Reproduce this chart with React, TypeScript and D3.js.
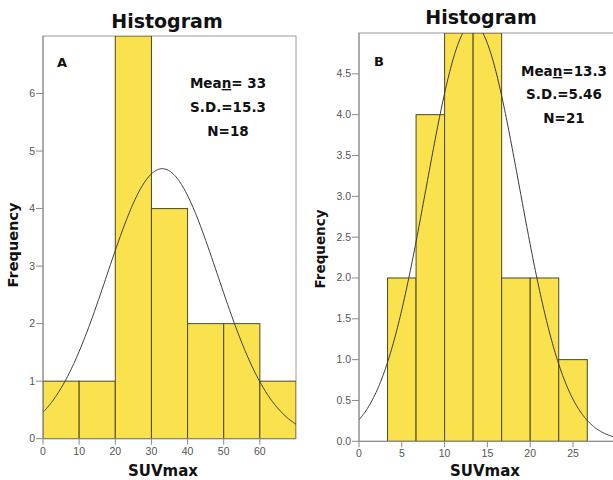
import React from "react";
import * as d3 from "d3";

// Panel A data
const edgesA = [0, 10, 20, 30, 40, 50, 60, 70];
const countsA = [1, 1, 7, 4, 2, 2, 1];
const ticksXA = [0, 10, 20, 30, 40, 50, 60];
const ticksYA = [0, 1, 2, 3, 4, 5, 6];
const meanA = 33;
const sdA = 15.3;
const nA = 18;

// Panel B data
const edgesB = [3.333, 6.667, 10, 13.333, 16.667, 20, 23.333, 26.667];
const countsB = [2, 4, 5, 5, 2, 2, 1];
const ticksXB = [0, 5, 10, 15, 20, 25];
const ticksYB = [0, 0.5, 1, 1.5, 2, 2.5, 3, 3.5, 4, 4.5];
const meanB = 13.3;
const sdB = 5.46;
const nB = 21;

const HEAVY = "'DejaVu Sans', 'Liberation Sans', Arial, sans-serif";
const LIGHT = "'Liberation Sans', Arial, sans-serif";

type PanelProps = {
  id: string;
  letter: string;
  edges: number[];
  counts: number[];
  xDomain: [number, number];
  yDomain: [number, number];
  xRange: [number, number];
  yRange: [number, number];
  xTicks: number[];
  yTicks: number[];
  yFmt: (v: number) => string;
  mean: number;
  sd: number;
  n: number;
  meanText: string;
  sdText: string;
  nText: string;
  titleX: number;
  titleY: number;
  statsX: number;
  statsY: number[];
  statsSize: number;
  letterX: number;
  letterY: number;
  yLabelX: number;
  yLabelY: number;
  yLabelSize: number;
  xLabelX: number;
  xLabelY: number;
};

function Panel(p: PanelProps) {
  const x = d3.scaleLinear().domain(p.xDomain).range(p.xRange);
  const y = d3.scaleLinear().domain(p.yDomain).range(p.yRange);
  const [x0, x1] = p.xRange;
  const [yb, yt] = p.yRange;
  const binW = p.edges[1] - p.edges[0];
  const pdf = (v: number) =>
    (p.n * binW) / (p.sd * Math.sqrt(2 * Math.PI)) *
    Math.exp(-((v - p.mean) ** 2) / (2 * p.sd * p.sd));
  const xs = d3.range(p.xDomain[0], p.xDomain[1] + 0.0001, (p.xDomain[1] - p.xDomain[0]) / 300);
  const line = d3
    .line<number>()
    .x((d) => x(d))
    .y((d) => y(pdf(d)));
  const clipId = "clip-" + p.id;
  return (
    <g>
      <defs>
        <clipPath id={clipId}>
          <rect x={x0} y={yt} width={x1 - x0} height={yb - yt} />
        </clipPath>
      </defs>
      <rect x={x0} y={yt} width={x1 - x0} height={yb - yt} fill="#fff" stroke="#9a9a9a" strokeWidth={1} />
      <g clipPath={`url(#${clipId})`}>
        {p.counts.map((c, i) => (
          <rect
            key={i}
            x={x(p.edges[i])}
            y={y(c)}
            width={x(p.edges[i + 1]) - x(p.edges[i])}
            height={y(0) - y(c)}
            fill="#f9e24e"
            stroke="#4d4822"
            strokeWidth={1}
          />
        ))}
        <path d={line(xs) || ""} fill="none" stroke="#3a3a3a" strokeWidth={1} />
      </g>
      <line x1={x0} x2={x1} y1={yb} y2={yb} stroke="#8a8a8a" />
      <line x1={x0} x2={x0} y1={yb} y2={yt} stroke="#8a8a8a" />
      {p.yTicks.map((t) => (
        <g key={"y" + t}>
          <line x1={x0 - 7} x2={x0} y1={y(t)} y2={y(t)} stroke="#8a8a8a" />
          <text x={x0 - 8} y={y(t) + 3.5} textAnchor="end" fontSize={10.5} fill="#555" fontFamily={LIGHT}>
            {p.yFmt(t)}
          </text>
        </g>
      ))}
      {p.xTicks.map((t) => (
        <g key={"x" + t}>
          <line x1={x(t)} x2={x(t)} y1={yb} y2={yb + 6} stroke="#8a8a8a" />
          <text x={x(t)} y={yb + 16} textAnchor="middle" fontSize={10.5} fill="#555" fontFamily={LIGHT}>
            {t}
          </text>
        </g>
      ))}
      <text x={p.titleX} y={p.titleY} textAnchor="middle" fontSize={19} fontWeight={700} fontFamily={HEAVY} fill="#111">
        Histogram
      </text>
      <text x={p.letterX} y={p.letterY} fontSize={13} fontWeight={700} fontFamily={HEAVY} fill="#111">
        {p.letter}
      </text>
      <text x={p.statsX} y={p.statsY[0]} textAnchor="middle" fontSize={p.statsSize} fontWeight={700} fontFamily={HEAVY} fill="#111">
        Mea<tspan textDecoration="underline">n</tspan>
        {p.meanText}
      </text>
      <text x={p.statsX} y={p.statsY[1]} textAnchor="middle" fontSize={p.statsSize} fontWeight={700} fontFamily={HEAVY} fill="#111">
        {p.sdText}
      </text>
      <text x={p.statsX} y={p.statsY[2]} textAnchor="middle" fontSize={p.statsSize} fontWeight={700} fontFamily={HEAVY} fill="#111">
        {p.nText}
      </text>
      <text
        transform={`translate(${p.yLabelX},${p.yLabelY}) rotate(-90)`}
        textAnchor="middle"
        fontSize={p.yLabelSize}
        fontWeight={700}
        fontFamily={HEAVY}
        fill="#111"
      >
        Frequency
      </text>
      <text x={p.xLabelX} y={p.xLabelY} textAnchor="middle" fontSize={15} fontWeight={700} fontFamily={HEAVY} fill="#111">
        SUVmax
      </text>
    </g>
  );
}

export default function App() {
  return (
    <svg
      width={613}
      height={480}
      style={{ position: "absolute", left: 0, top: 0, background: "#fff" }}
    >
      <Panel
        id="a"
        letter="A"
        edges={edgesA}
        counts={countsA}
        xDomain={[0, 70]}
        yDomain={[0, 7]}
        xRange={[43, 296]}
        yRange={[438.7, 36]}
        xTicks={ticksXA}
        yTicks={ticksYA}
        yFmt={(v) => d3.format("d")(v)}
        mean={meanA}
        sd={sdA}
        n={nA}
        meanText={"= " + meanA}
        sdText={"S.D.=" + sdA}
        nText={"N=" + nA}
        titleX={167}
        titleY={28}
        statsX={228}
        statsY={[88, 112, 136]}
        statsSize={13.5}
        letterX={57}
        letterY={67}
        yLabelX={18}
        yLabelY={245}
        yLabelSize={14.5}
        xLabelX={163}
        xLabelY={476}
      />
      <Panel
        id="b"
        letter="B"
        edges={edgesB}
        counts={countsB}
        xDomain={[0, 30]}
        yDomain={[0, 5]}
        xRange={[359, 615.8]}
        yRange={[441.3, 33]}
        xTicks={ticksXB}
        yTicks={ticksYB}
        yFmt={(v) => d3.format(".1f")(v)}
        mean={meanB}
        sd={sdB}
        n={nB}
        meanText={"=" + meanB}
        sdText={"S.D.=" + sdB}
        nText={"N=" + nB}
        titleX={481}
        titleY={24}
        statsX={564}
        statsY={[76, 99, 123]}
        statsSize={13.5}
        letterX={374}
        letterY={66}
        yLabelX={325}
        yLabelY={249}
        yLabelSize={13.5}
        xLabelX={485}
        xLabelY={476}
      />
    </svg>
  );
}
